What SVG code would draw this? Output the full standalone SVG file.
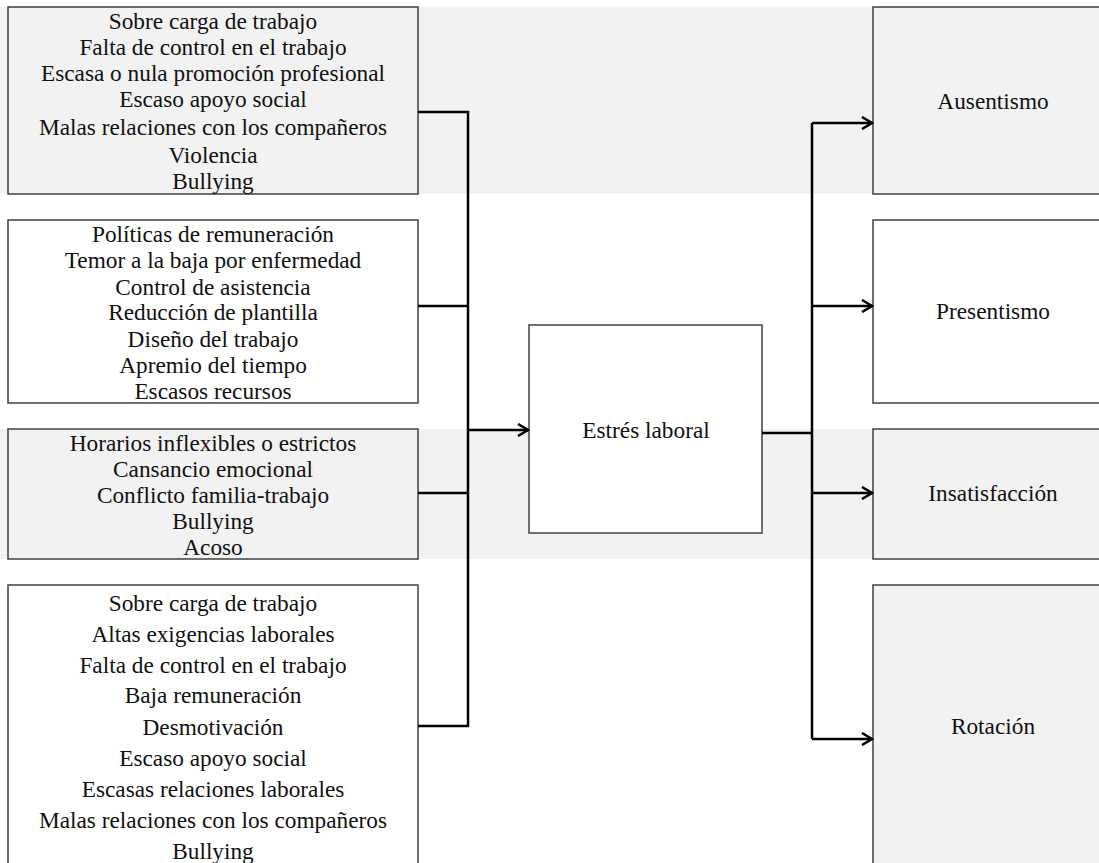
<svg xmlns="http://www.w3.org/2000/svg" width="1099" height="863" viewBox="0 0 1099 863">
<style>
.box{stroke:#404040;stroke-width:1.5}
.g{fill:#f2f2f2}
.w{fill:#ffffff}
text{font-family:'Times New Roman','Liberation Serif',serif;font-size:23.3px;fill:#111;text-anchor:middle}
.c{fill:none;stroke:#000;stroke-width:2.5}
</style>
<defs>
<marker id="arr" markerWidth="14" markerHeight="14" refX="12" refY="7" orient="auto" markerUnits="userSpaceOnUse">
<path d="M2,1 L12,7 L2,13" fill="none" stroke="#000" stroke-width="2.5"/>
</marker>
</defs>
<rect width="1099" height="863" fill="#fff"/>
<rect x="0" y="7" width="1099" height="187" fill="#f2f2f2"/>
<rect x="0" y="429" width="1099" height="130" fill="#f2f2f2"/>
<g id="n1"><rect class="box g" x="8" y="7" width="410" height="187"/>
<text x="213" y="28.5">Sobre carga de trabajo</text>
<text x="213" y="54.5">Falta de control en el trabajo</text>
<text x="213" y="80.5">Escasa o nula promoción profesional</text>
<text x="213" y="106.5">Escaso apoyo social</text>
<text x="213" y="134.5">Malas relaciones con los compañeros</text>
<text x="213" y="162.5">Violencia</text>
<text x="213" y="188.5">Bullying</text></g>
<g id="n2"><rect class="box w" x="8" y="220" width="410" height="183"/>
<text x="213" y="241.5">Políticas de remuneración</text>
<text x="213" y="267.5">Temor a la baja por enfermedad</text>
<text x="213" y="294.5">Control de asistencia</text>
<text x="213" y="319.5">Reducción de plantilla</text>
<text x="213" y="346.5">Diseño del trabajo</text>
<text x="213" y="372.5">Apremio del tiempo</text>
<text x="213" y="398.5">Escasos recursos</text></g>
<g id="n3"><rect class="box g" x="8" y="429" width="410" height="130"/>
<text x="213" y="450.5">Horarios inflexibles o estrictos</text>
<text x="213" y="476.5">Cansancio emocional</text>
<text x="213" y="502.5">Conflicto familia-trabajo</text>
<text x="213" y="528.5">Bullying</text>
<text x="213" y="554.5">Acoso</text></g>
<g id="n4"><rect class="box w" x="8" y="585" width="410" height="290"/>
<text x="213" y="610.5">Sobre carga de trabajo</text>
<text x="213" y="641.5">Altas exigencias laborales</text>
<text x="213" y="672.5">Falta de control en el trabajo</text>
<text x="213" y="702.5">Baja remuneración</text>
<text x="213" y="734.5">Desmotivación</text>
<text x="213" y="765.5">Escaso apoyo social</text>
<text x="213" y="796.5">Escasas relaciones laborales</text>
<text x="213" y="827.5">Malas relaciones con los compañeros</text>
<text x="213" y="858.5">Bullying</text></g>
<g id="center"><rect class="box w" x="529" y="325" width="233" height="208"/>
<text x="646" y="437.5">Estrés laboral</text></g>
<g id="r1"><rect class="box g" x="873" y="7" width="240" height="187"/>
<text x="993" y="108.5">Ausentismo</text></g>
<g id="r2"><rect class="box w" x="873" y="220" width="240" height="183"/>
<text x="993" y="318.5">Presentismo</text></g>
<g id="r3"><rect class="box g" x="873" y="429" width="240" height="130"/>
<text x="993" y="500.5">Insatisfacción</text></g>
<g id="r4"><rect class="box g" x="873" y="585" width="240" height="290"/>
<text x="993" y="733.5">Rotación</text></g>
<g id="connectors">
<path class="c" d="M418,112 H468 V726 H418"/>
<path class="c" d="M418,306 H468"/>
<path class="c" d="M418,493 H468"/>
<path class="c" d="M468,430 H528" marker-end="url(#arr)"/>
<path class="c" d="M762,433 H812"/>
<path class="c" d="M812,123 V739"/>
<path class="c" d="M812,123 H872" marker-end="url(#arr)"/>
<path class="c" d="M812,306 H872" marker-end="url(#arr)"/>
<path class="c" d="M812,493 H872" marker-end="url(#arr)"/>
<path class="c" d="M812,739 H872" marker-end="url(#arr)"/>
</g>
</svg>
